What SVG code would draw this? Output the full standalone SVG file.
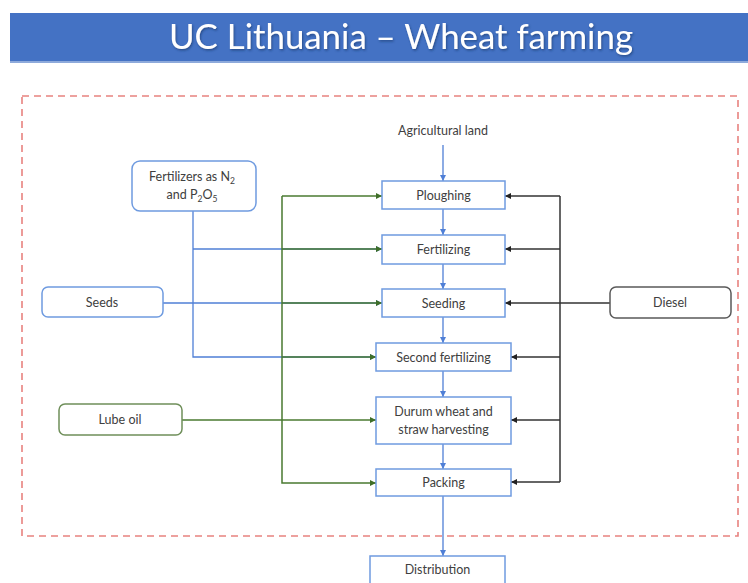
<svg xmlns="http://www.w3.org/2000/svg" width="748" height="583" viewBox="0 0 748 583">
  <style>
    .lbl { font-family: Lato, "Open Sans", "Liberation Sans", sans-serif; font-size: 12.5px; fill: #404040; text-anchor: middle; }
    .box { fill: #ffffff; stroke: #6f9be0; stroke-width: 1.5; }
    .in-blue { fill: #ffffff; stroke: #6f9be0; stroke-width: 1.5; }
    .in-green { fill: #ffffff; stroke: #6f8f5a; stroke-width: 1.5; }
    .in-black { fill: #ffffff; stroke: #5a5a5a; stroke-width: 1.5; }
    .c-blue { fill: none; stroke: #4f7fd6; stroke-width: 1.3; }
    .c-green { fill: none; stroke: #4a7a30; stroke-width: 1.5; }
    .c-black { fill: none; stroke: #333333; stroke-width: 1.5; }
  </style>
  <defs>
    <marker id="ah-blue" viewBox="0 0 10 10" refX="10" refY="5" markerWidth="6" markerHeight="6" markerUnits="userSpaceOnUse" orient="auto">
      <path d="M0,0 L10,5 L0,10 z" fill="#4f7fd6"/>
    </marker>
    <marker id="ah-green" viewBox="0 0 10 10" refX="10" refY="5" markerWidth="6" markerHeight="6" markerUnits="userSpaceOnUse" orient="auto">
      <path d="M0,0 L10,5 L0,10 z" fill="#3f6e28"/>
    </marker>
    <marker id="ah-black" viewBox="0 0 10 10" refX="10" refY="5" markerWidth="6" markerHeight="6" markerUnits="userSpaceOnUse" orient="auto">
      <path d="M0,0 L10,5 L0,10 z" fill="#222222"/>
    </marker>
    <filter id="shadow" x="-5%" y="-20%" width="110%" height="140%">
      <feDropShadow dx="1" dy="1.5" stdDeviation="1" flood-color="#1f3b70" flood-opacity="0.7"/>
    </filter>
  </defs>

  <rect width="748" height="583" fill="#ffffff"/>

  <!-- title banner -->
  <g id="title">
    <rect x="10" y="13" width="738" height="49" fill="#4472c4"/>
    <rect x="10" y="61" width="738" height="2" fill="#8eaadb"/>
    <text x="401" y="49" font-family="Lato, 'Open Sans', 'Liberation Sans', sans-serif" font-size="34" fill="#ffffff" text-anchor="middle" filter="url(#shadow)" textLength="464" lengthAdjust="spacingAndGlyphs">UC Lithuania – Wheat farming</text>
  </g>

  <!-- system boundary -->
  <rect id="boundary" x="22" y="96" width="716" height="440" fill="none" stroke="#e8827f" stroke-width="1.6" stroke-dasharray="7,5"/>

  <!-- connectors -->
  <g id="connectors">
    <!-- main process chain -->
    <path class="c-blue" d="M443,145 V181" marker-end="url(#ah-blue)"/>
    <path class="c-blue" d="M443,209 V235" marker-end="url(#ah-blue)"/>
    <path class="c-blue" d="M443,264 V289" marker-end="url(#ah-blue)"/>
    <path class="c-blue" d="M443,317 V343" marker-end="url(#ah-blue)"/>
    <path class="c-blue" d="M443,371 V397" marker-end="url(#ah-blue)"/>
    <path class="c-blue" d="M443,444 V469" marker-end="url(#ah-blue)"/>
    <path class="c-blue" d="M443,496 V556" marker-end="url(#ah-blue)"/>

    <!-- fertilizers -->
    <path class="c-blue" d="M193,211 V357 H376" marker-end="url(#ah-blue)"/>
    <path class="c-blue" d="M193,249 H382" marker-end="url(#ah-blue)"/>
    <!-- seeds -->
    <path class="c-blue" d="M163,303 H382" marker-end="url(#ah-blue)"/>

    <!-- lube oil -->
    <path class="c-green" d="M182,420 H376" marker-end="url(#ah-green)"/>
    <path class="c-green" d="M282,196 H382" marker-end="url(#ah-green)"/>
    <path class="c-green" d="M282,196 V483 H376" marker-end="url(#ah-green)"/>
    <path class="c-green" d="M282,249 H382" marker-end="url(#ah-green)"/>
    <path class="c-green" d="M282,303 H382" marker-end="url(#ah-green)"/>
    <path class="c-green" d="M282,357 H376" marker-end="url(#ah-green)"/>

    <!-- diesel -->
    <path class="c-black" d="M610,303 H560"/>
    <path class="c-black" d="M560,196 V482"/>
    <path class="c-black" d="M560,196 H505" marker-end="url(#ah-black)"/>
    <path class="c-black" d="M560,249 H505" marker-end="url(#ah-black)"/>
    <path class="c-black" d="M560,303 H505" marker-end="url(#ah-black)"/>
    <path class="c-black" d="M560,357 H511" marker-end="url(#ah-black)"/>
    <path class="c-black" d="M560,420 H511" marker-end="url(#ah-black)"/>
    <path class="c-black" d="M560,482 H511" marker-end="url(#ah-black)"/>
  </g>

  <!-- process nodes -->
  <g id="agricultural-land">
    <text class="lbl" x="443" y="135">Agricultural land</text>
  </g>
  <g id="ploughing">
    <rect class="box" x="382" y="181" width="123" height="28"/>
    <text class="lbl" x="443.5" y="199.5">Ploughing</text>
  </g>
  <g id="fertilizing">
    <rect class="box" x="382" y="235" width="123" height="29"/>
    <text class="lbl" x="443.5" y="253.5">Fertilizing</text>
  </g>
  <g id="seeding">
    <rect class="box" x="382" y="289" width="123" height="28"/>
    <text class="lbl" x="443.5" y="307.5">Seeding</text>
  </g>
  <g id="second-fertilizing">
    <rect class="box" x="376" y="343" width="135" height="28"/>
    <text class="lbl" x="443.5" y="361.5">Second fertilizing</text>
  </g>
  <g id="harvesting">
    <rect class="box" x="376" y="397" width="135" height="47"/>
    <text class="lbl" x="443.5" y="416">Durum wheat and</text>
    <text class="lbl" x="443.5" y="433.5">straw harvesting</text>
  </g>
  <g id="packing">
    <rect class="box" x="376" y="469" width="135" height="27"/>
    <text class="lbl" x="443.5" y="487">Packing</text>
  </g>
  <g id="distribution">
    <rect class="box" x="370" y="556" width="135" height="30"/>
    <text class="lbl" x="437.5" y="573.5">Distribution</text>
  </g>

  <!-- input nodes -->
  <g id="fertilizers">
    <rect class="in-blue" x="132" y="161" width="124" height="50" rx="8"/>
    <text class="lbl" x="192" y="181">Fertilizers as N<tspan font-size="8.5" dy="3">2</tspan></text>
    <text class="lbl" x="192" y="199">and P<tspan font-size="8.5" dy="3">2</tspan><tspan dy="-3">O</tspan><tspan font-size="8.5" dy="3">5</tspan></text>
  </g>
  <g id="seeds">
    <rect class="in-blue" x="42" y="287" width="121" height="30" rx="6"/>
    <text class="lbl" x="102" y="306.5">Seeds</text>
  </g>
  <g id="lube-oil">
    <rect class="in-green" x="59" y="404" width="123" height="31" rx="6"/>
    <text class="lbl" x="120" y="424">Lube oil</text>
  </g>
  <g id="diesel">
    <rect class="in-black" x="610" y="287" width="121" height="31" rx="6"/>
    <text class="lbl" x="670" y="307">Diesel</text>
  </g>
</svg>
